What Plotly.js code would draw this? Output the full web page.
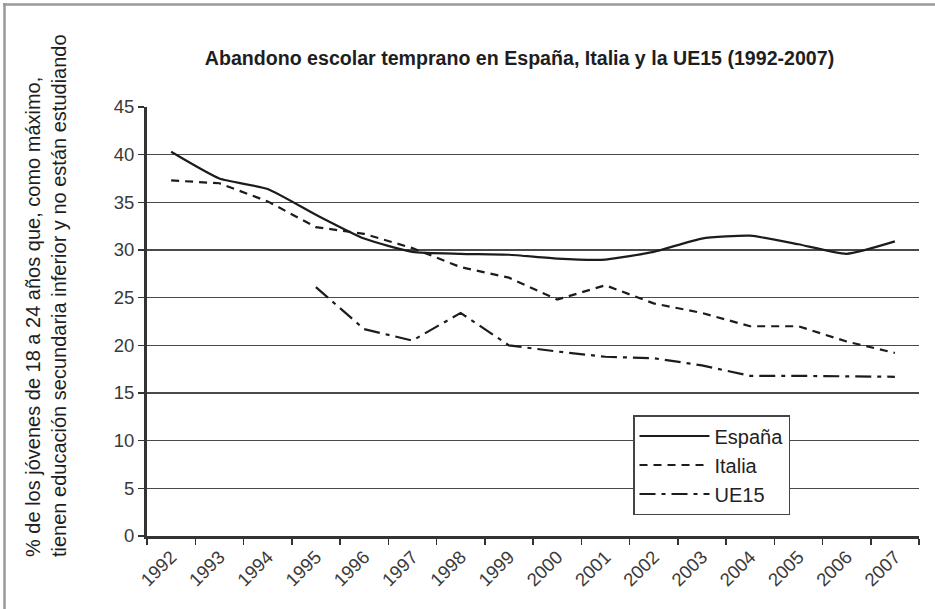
<!DOCTYPE html>
<html>
<head>
<meta charset="utf-8">
<script src="https://cdn.plot.ly/plotly-3.0.1.min.js"></script>
<style>
  html, body { margin: 0; padding: 0; background: #ffffff; }
  #chart { width: 935px; height: 609px; }
</style>
</head>
<body>
<div id="chart"></div>
<script>
const years = ["1992","1993","1994","1995","1996","1997","1998","1999","2000","2001","2002","2003","2004","2005","2006","2007"];
const espana = [40.3, 37.5, 36.4, 33.7, 31.2, 29.8, 29.6, 29.5, 29.1, 29.0, 29.8, 31.2, 31.5, 30.6, 29.6, 30.9];
const italia = [37.3, 37.0, 35.1, 32.4, 31.7, 30.2, 28.2, 27.1, 24.8, 26.3, 24.4, 23.4, 22.0, 22.0, 20.4, 19.2];
const ue15   = [null, null, null, 26.1, 21.7, 20.5, 23.4, 20.0, 19.35, 18.8, 18.65, 17.9, 16.8, 16.8, 16.75, 16.7];
const seriesNames = ["España", "Italia", "UE15"];
const yTicks = [0, 5, 10, 15, 20, 25, 30, 35, 40, 45];

const titleText = "Abandono escolar temprano en España, Italia y la UE15 (1992-2007)";
const yTitleText = "% de los jóvenes de 18 a 24 años que, como máximo,<br>tienen educación secundaria inferior y no están estudiando";

const W = 935, H = 609;
const M = { l: 147, r: 16, t: 107, b: 73 };
const pw = W - M.l - M.r, ph = H - M.t - M.b;
const px = v => (v - M.l) / pw;
const py = v => (H - M.b - v) / ph;

const lineColor = "#1c1c1c";
const traces = [
  { x: years, y: espana, name: seriesNames[0], type: "scatter", mode: "lines",
    line: { color: lineColor, width: 2.2, dash: "solid", shape: "spline", smoothing: 0.5 } },
  { x: years, y: italia, name: seriesNames[1], type: "scatter", mode: "lines",
    line: { color: lineColor, width: 2.2, dash: "8px,6px" } },
  { x: years, y: ue15, name: seriesNames[2], type: "scatter", mode: "lines",
    line: { color: lineColor, width: 2.2, dash: "16px,6px,4px,6px" }, connectgaps: false }
];

const font = "'Liberation Sans', Arial, sans-serif";

const layout = {
  width: W, height: H,
  margin: M,
  paper_bgcolor: "#ffffff",
  plot_bgcolor: "#ffffff",
  showlegend: true,
  font: { family: font, color: "#222" },
  title: {
    text: titleText,
    font: { family: font, size: 19.6, color: "#1e1e1e", weight: "bold" },
    x: 519.5 / W, xanchor: "center", xref: "container",
    y: 1 - 58 / H, yanchor: "middle", yref: "container"
  },
  xaxis: {
    type: "category",
    range: [-0.5, 15.5],
    tickson: "boundaries",
    ticks: "outside", ticklen: 6, tickwidth: 1.5, tickcolor: "#333",
    tickangle: -45,
    tickfont: { family: font, size: 18.5, color: "#3a3a3a" },
    showgrid: false,
    showline: true, linecolor: "#333", linewidth: 3,
    zeroline: false, fixedrange: true
  },
  yaxis: {
    range: [0, 45],
    tickvals: yTicks,
    ticks: "outside", ticklen: 6, tickwidth: 1.5, tickcolor: "#333",
    tickfont: { family: font, size: 18.5, color: "#3a3a3a" },
    showgrid: true, gridcolor: "#4a4a4a", gridwidth: 1.3,
    showline: true, linecolor: "#333", linewidth: 3,
    zeroline: false, fixedrange: true
  },
  legend: {
    x: px(633), y: py(415), xanchor: "left", yanchor: "top",
    bgcolor: "#ffffff", bordercolor: "#444", borderwidth: 1.5,
    font: { family: font, size: 20, color: "#222" },
    itemwidth: 70,
    entrywidth: 175, entrywidthmode: "pixels",
    tracegroupgap: 0
  },
  annotations: [{
    text: yTitleText,
    xref: "paper", yref: "paper",
    x: px(46), y: py(296),
    xanchor: "center", yanchor: "middle",
    textangle: -90, align: "left",
    showarrow: false,
    font: { family: font, size: 20, color: "#1e1e1e" }
  }],
  shapes: [
    { type: "line", xref: "paper", yref: "paper",
      x0: px(3), x1: px(935), y0: py(4.5), y1: py(4.5),
      line: { color: "#9a9a9a", width: 2.5 } },
    { type: "line", xref: "paper", yref: "paper",
      x0: px(4.5), x1: px(4.5), y0: py(3), y1: py(609),
      line: { color: "#9a9a9a", width: 2.5 } }
  ]
};

Plotly.newPlot("chart", traces, layout, { displayModeBar: false, staticPlot: true });
</script>
</body>
</html>
